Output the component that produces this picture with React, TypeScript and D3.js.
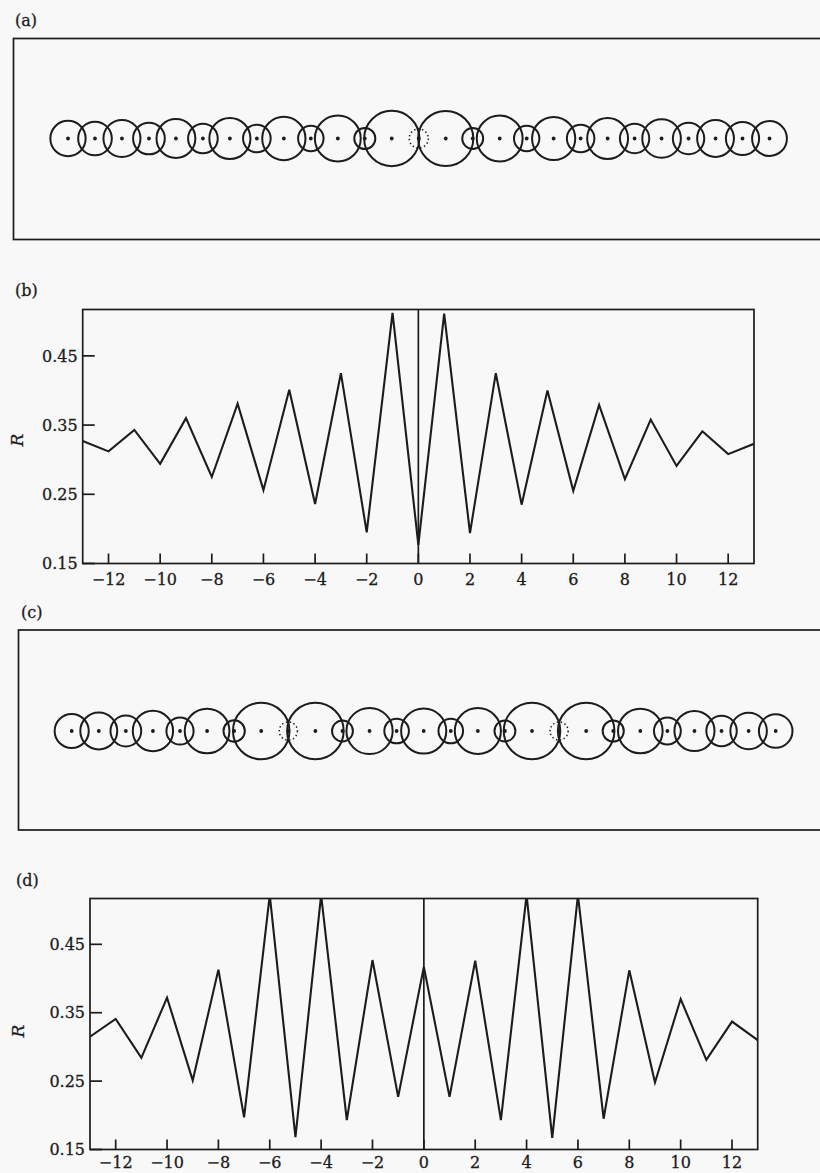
import React from "react";
import * as d3 from "d3";

// Lattice sites along the chain
const sites = [-13, -12, -11, -10, -9, -8, -7, -6, -5, -4, -3, -2, -1, 0, 1, 2, 3, 4, 5, 6, 7, 8, 9, 10, 11, 12, 13];

// Radius R at each site, configuration 1 (panels a, b)
const radiusB = [
  0.327, 0.312, 0.343, 0.294, 0.36, 0.275, 0.381, 0.256, 0.401, 0.236, 0.425, 0.195, 0.512, 0.177,
  0.511, 0.194, 0.425, 0.235, 0.4, 0.255, 0.379, 0.272, 0.358, 0.291, 0.341, 0.308, 0.323,
];

// Radius R at each site, configuration 2 (panels c, d)
const radiusD = [
  0.315, 0.341, 0.284, 0.372, 0.251, 0.413, 0.197, 0.522, 0.168, 0.522, 0.193, 0.427, 0.227, 0.417,
  0.227, 0.426, 0.193, 0.522, 0.167, 0.522, 0.195, 0.412, 0.248, 0.37, 0.281, 0.337, 0.31,
];

// Sites whose circle is drawn dotted
const dottedB = [0];
const dottedD = [-5, 5];

// Axis ticks
const xTicks = [-12, -10, -8, -6, -4, -2, 0, 2, 4, 6, 8, 10, 12];
const yTicks = [0.15, 0.25, 0.35, 0.45];
const yDomain = [0.15, 0.517];

const INK = "#1c1c1c";
const FONT = "'DejaVu Serif', 'Liberation Serif', serif";
const textStyle = { fontFamily: FONT, fontSize: 16, fill: INK, stroke: INK, strokeWidth: 0.3 };

type ChainProps = {
  label: string;
  labelX: number;
  labelY: number;
  frame: { x0: number; y0: number; x1: number; y1: number };
  xRange: [number, number];
  cy: number;
  values: number[];
  dotted: number[];
};

function Chain({ label, labelX, labelY, frame, xRange, cy, values, dotted }: ChainProps) {
  const x = d3.scaleLinear().domain([-13, 13]).range(xRange);
  const unit = x(1) - x(0);
  // circle radius is 2R in lattice units
  const r = (v: number) => 2 * v * unit;
  return (
    <g>
      <text x={labelX} y={labelY} {...textStyle}>
        {label}
      </text>
      <rect
        x={frame.x0}
        y={frame.y0}
        width={frame.x1 - frame.x0}
        height={frame.y1 - frame.y0}
        fill="none"
        stroke={INK}
        strokeWidth={1.7}
      />
      {sites.map((s, i) => (
        <circle
          key={"c" + s}
          cx={x(s)}
          cy={cy}
          r={r(values[i])}
          fill="none"
          stroke={INK}
          strokeWidth={dotted.includes(s) ? 1.5 : 2}
          strokeDasharray={dotted.includes(s) ? "1.4 2.6" : undefined}
        />
      ))}
      {sites.map((s) => (
        <circle key={"d" + s} cx={x(s)} cy={cy} r={1.9} fill={INK} />
      ))}
    </g>
  );
}

type PlotProps = {
  label: string;
  labelX: number;
  labelY: number;
  x0: number;
  x1: number;
  y0: number;
  y1: number;
  values: number[];
  id: string;
  yTitleX: number;
  yTitleY: number;
  xLabelGap: number;
};

function RPlot({ label, labelX, labelY, x0, x1, y0, y1, values, id, yTitleX, yTitleY, xLabelGap }: PlotProps) {
  const x = d3.scaleLinear().domain([-13, 13]).range([x0, x1]);
  const y = d3.scaleLinear().domain(yDomain).range([y1, y0]);
  const line = d3
    .line<number>()
    .x((_, i) => x(sites[i]))
    .y((v) => y(v));
  const fmtX = d3.format("d");
  const fmtY = d3.format(".2f");
  return (
    <g>
      <defs>
        <clipPath id={id}>
          <rect x={x0} y={y0} width={x1 - x0} height={y1 - y0} />
        </clipPath>
      </defs>
      <text x={labelX} y={labelY} {...textStyle}>
        {label}
      </text>
      <path
        d={line(values) || ""}
        fill="none"
        stroke={INK}
        strokeWidth={2.1}
        strokeLinejoin="miter"
        clipPath={`url(#${id})`}
      />
      <line x1={x(0)} x2={x(0)} y1={y0} y2={y1} stroke={INK} strokeWidth={1.7} />
      <rect x={x0} y={y0} width={x1 - x0} height={y1 - y0} fill="none" stroke={INK} strokeWidth={1.7} />
      {xTicks.map((t) => (
        <g key={"x" + t}>
          <line x1={x(t)} x2={x(t)} y1={y1} y2={y1 - 10} stroke={INK} strokeWidth={1.7} />
          <text x={x(t)} y={y1 + xLabelGap} textAnchor="middle" {...textStyle}>
            {fmtX(t)}
          </text>
        </g>
      ))}
      {yTicks.map((t) => (
        <g key={"y" + t}>
          <line x1={x0} x2={x0 + 12} y1={y(t)} y2={y(t)} stroke={INK} strokeWidth={1.7} />
          <text x={x0 - 5} y={y(t)} dy="0.36em" textAnchor="end" {...textStyle}>
            {fmtY(t)}
          </text>
        </g>
      ))}
      <text
        transform={`translate(${yTitleX},${yTitleY}) rotate(-90)`}
        textAnchor="middle"
        {...textStyle}
        fontSize={17}
        fontStyle="italic"
      >
        R
      </text>
    </g>
  );
}

export default function App() {
  return (
    <svg
      width={820}
      height={1173}
      viewBox="0 0 820 1173"
      style={{ position: "absolute", left: 0, top: 0, display: "block" }}
    >
      <rect x={0} y={0} width={820} height={1173} fill="#f8f8f8" />
      <Chain
        label="(a)"
        labelX={15}
        labelY={26}
        frame={{ x0: 13.5, y0: 38.5, x1: 840, y1: 239.5 }}
        xRange={[68, 769.5]}
        cy={138.5}
        values={radiusB}
        dotted={dottedB}
      />
      <RPlot
        label="(b)"
        labelX={15}
        labelY={296}
        x0={82.7}
        x1={754}
        y0={309.5}
        y1={563.5}
        values={radiusB}
        id="clip-b"
        yTitleX={22.5}
        yTitleY={440}
        xLabelGap={21.5}
      />
      <Chain
        label="(c)"
        labelX={21}
        labelY={618}
        frame={{ x0: 18.5, y0: 630, x1: 840, y1: 830 }}
        xRange={[71.7, 775.7]}
        cy={731}
        values={radiusD}
        dotted={dottedD}
      />
      <RPlot
        label="(d)"
        labelX={16}
        labelY={886}
        x0={90}
        x1={757.7}
        y0={898.5}
        y1={1149.5}
        values={radiusD}
        id="clip-d"
        yTitleX={23.5}
        yTitleY={1031}
        xLabelGap={18.5}
      />
    </svg>
  );
}
